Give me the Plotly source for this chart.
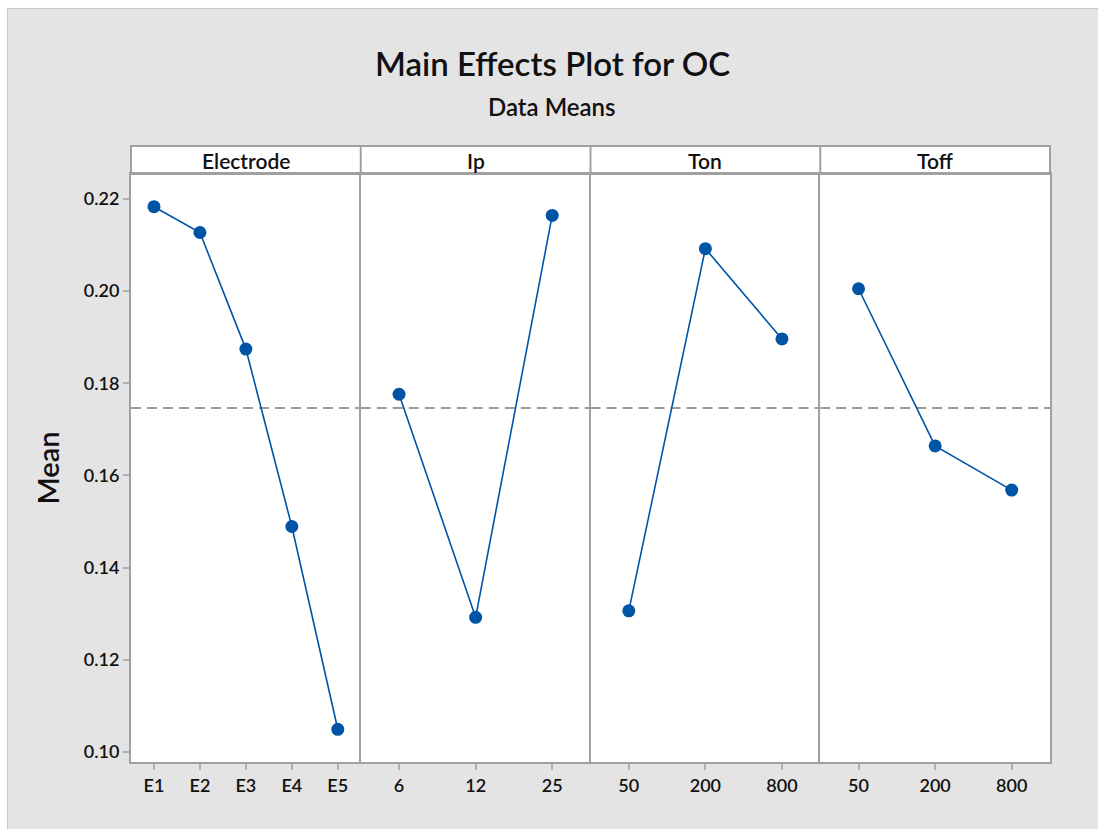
import plotly.graph_objects as go
from plotly.subplots import make_subplots

# Factor levels and their data means
factors = ["Electrode", "Ip", "Ton", "Toff"]
electrode_levels = ["E1", "E2", "E3", "E4", "E5"]
electrode_means = [0.2183, 0.2127, 0.1874, 0.1489, 0.1049]
ip_levels = ["6", "12", "25"]
ip_means = [0.1776, 0.1292, 0.2164]
ton_levels = ["50", "200", "800"]
ton_means = [0.1306, 0.2092, 0.1896]
toff_levels = ["50", "200", "800"]
toff_means = [0.2005, 0.1664, 0.1568]
grand_mean = 0.1746

y_ticks = [0.10, 0.12, 0.14, 0.16, 0.18, 0.20, 0.22]
y_range = [0.0978, 0.2254]

levels = [electrode_levels, ip_levels, ton_levels, toff_levels]
means = [electrode_means, ip_means, ton_means, toff_means]

W, H = 1098, 829
L, R, T, B = 131, 48, 174, 67
PW, PH = W - L - R, H - T - B

FONT = "Lato, 'Open Sans', sans-serif"
BLUE = "#0054a6"
FRAME = "#a0a0a0"
TXT = "#111111"


def px_x(px):
    return (px - L) / PW


def px_y(py):
    return (H - B - py) / PH


fig = make_subplots(rows=1, cols=4, shared_yaxes=True, horizontal_spacing=0)

for i, (lv, mv) in enumerate(zip(levels, means), start=1):
    xs = list(range(1, len(lv) + 1))
    # reference line at the overall mean
    fig.add_trace(
        go.Scatter(
            x=[0.5, len(lv) + 0.5], y=[grand_mean, grand_mean],
            mode="lines", line=dict(color="#9a9a9a", width=2, dash="10px,6px"),
            hoverinfo="skip", showlegend=False,
        ),
        row=1, col=i,
    )
    fig.add_trace(
        go.Scatter(
            x=xs, y=mv, mode="lines+markers",
            line=dict(color=BLUE, width=1.6),
            marker=dict(color=BLUE, size=13),
            showlegend=False,
        ),
        row=1, col=i,
    )
    fig.update_xaxes(
        row=1, col=i,
        range=[0.5, len(lv) + 0.5], tickvals=xs, ticktext=lv,
        showgrid=False, zeroline=False,
        showline=True, mirror=True, linecolor=FRAME, linewidth=2,
        ticks="outside", ticklen=6, tickwidth=2, tickcolor="#b0b0b0",
        tickfont=dict(family=FONT, size=18, color=TXT, weight=600),
    )
    fig.update_yaxes(
        row=1, col=i,
        range=y_range, tickvals=y_ticks, tickformat=".2f",
        showgrid=False, zeroline=False,
        showline=True, mirror=(i == 4), linecolor=FRAME, linewidth=2,
        ticks="outside" if i == 1 else "", ticklen=6, tickwidth=2,
        tickcolor="#b0b0b0",
        showticklabels=(i == 1),
        tickfont=dict(family=FONT, size=18, color=TXT, weight=600),
    )

fig.update_yaxes(
    row=1, col=1,
    title=dict(text="Mean", font=dict(family=FONT, size=29, color=TXT, weight=600),
               standoff=16),
)

shapes = []
# white margin at the top and left, with the thin border of the grey panel
shapes.append(dict(
    type="rect", xref="paper", yref="paper", layer="below",
    x0=px_x(-5), x1=px_x(1110), y0=px_y(8), y1=px_y(-5),
    fillcolor="white", line=dict(width=0),
))
shapes.append(dict(
    type="rect", xref="paper", yref="paper", layer="below",
    x0=px_x(-5), x1=px_x(7), y0=px_y(840), y1=px_y(-5),
    fillcolor="white", line=dict(width=0),
))
shapes.append(dict(
    type="line", xref="paper", yref="paper", layer="below",
    x0=px_x(7.5), x1=px_x(1110), y0=px_y(8.5), y1=px_y(8.5),
    line=dict(color="#c8c8c8", width=1),
))
shapes.append(dict(
    type="line", xref="paper", yref="paper", layer="below",
    x0=px_x(7.5), x1=px_x(7.5), y0=px_y(8.5), y1=px_y(840),
    line=dict(color="#c8c8c8", width=1),
))
# facet strip
strip_top = px_y(146)
shapes.append(dict(
    type="rect", xref="paper", yref="paper", layer="below",
    x0=0, x1=1, y0=1, y1=strip_top,
    fillcolor="white", line=dict(color=FRAME, width=2),
))
for k in range(1, 4):
    shapes.append(dict(
        type="line", xref="paper", yref="paper", layer="below",
        x0=k / 4, x1=k / 4, y0=1, y1=strip_top,
        line=dict(color=FRAME, width=2),
    ))

annotations = []
for k, name in enumerate(factors):
    annotations.append(dict(
        text=name, xref="paper", yref="paper",
        x=(k + 0.5) / 4, y=(1 + strip_top) / 2,
        xanchor="center", yanchor="middle", showarrow=False,
        font=dict(family=FONT, size=21, color=TXT, weight=600),
    ))
annotations.append(dict(
    text="Main Effects Plot for OC", xref="paper", yref="paper",
    x=px_x(552), y=px_y(63), xanchor="center", yanchor="middle",
    showarrow=False, font=dict(family=FONT, size=33, color=TXT, weight=600),
))
annotations.append(dict(
    text="Data Means", xref="paper", yref="paper",
    x=px_x(552), y=px_y(106), xanchor="center", yanchor="middle",
    showarrow=False, font=dict(family=FONT, size=24, color=TXT, weight=600),
))

fig.update_layout(
    width=W, height=H,
    margin=dict(l=L, r=R, t=T, b=B),
    paper_bgcolor="#e4e4e4", plot_bgcolor="white",
    shapes=shapes, annotations=annotations,
    showlegend=False,
)

fig.write_html("out.html")
